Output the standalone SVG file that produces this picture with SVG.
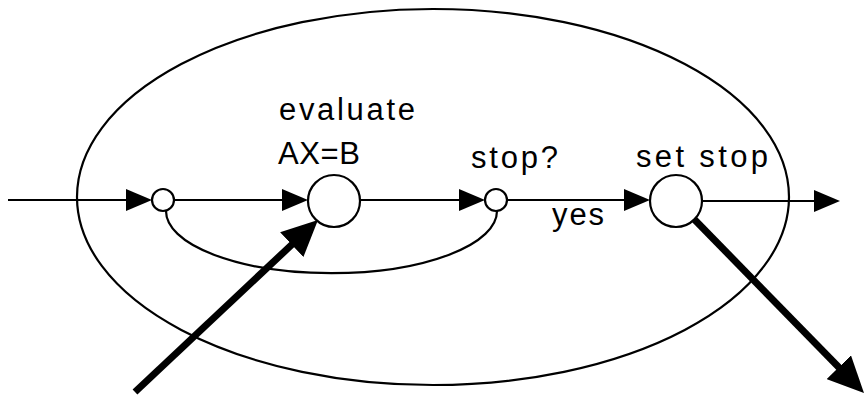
<svg xmlns="http://www.w3.org/2000/svg" width="864" height="399" viewBox="0 0 864 399">
<style>
.ln{fill:none;stroke:#000;stroke-width:2.2}
.thin{fill:none;stroke:#000;stroke-width:2.2;marker-end:url(#ah)}
.thick{fill:none;stroke:#000;stroke-width:7;marker-end:url(#ahb)}
.nd{fill:#fff;stroke:#000;stroke-width:2.2}
.tx{font-family:"Liberation Sans",Arial,sans-serif;font-size:31px;fill:#000}
</style>
<defs>
<marker id="ah" markerUnits="userSpaceOnUse" markerWidth="26" markerHeight="22" refX="16" refY="11" orient="auto">
<path d="M0,0 L26,11 L0,22 z" fill="#000"/>
</marker>
<marker id="ahb" markerUnits="userSpaceOnUse" markerWidth="36" markerHeight="34" refX="16" refY="17" orient="auto">
<path d="M0,0 L36,17 L0,34 z" fill="#000"/>
</marker>
</defs>
<g id="boundary">
<ellipse class="ln" cx="433" cy="197" rx="356" ry="188"/>
</g>
<g id="connectors">
<path class="thin" d="M8,200 L142,200"/>
<path class="thin" d="M174,200 L298,200"/>
<path class="thin" d="M360,200 L475,200"/>
<path class="thin" d="M507,200 L640,200"/>
<path class="thin" d="M702,201 L830,201"/>
<path class="ln" d="M166,211 A165,62 0 0 0 497,211"/>
<path class="thick" d="M135,392 L303.4,233.7"/>
<path class="thick" d="M692,217 L850,378.7"/>
<text class="tx" x="552" y="225" textLength="52">yes</text>
</g>
<g id="node-split">
<circle class="nd" cx="163" cy="200" r="11"/>
</g>
<g id="node-evaluate">
<circle class="nd" cx="334" cy="201" r="26"/>
<text class="tx" x="279" y="120" textLength="136">evaluate</text>
<text class="tx" x="278" y="164" textLength="82">AX=B</text>
</g>
<g id="node-stop">
<circle class="nd" cx="496" cy="200" r="11"/>
<text class="tx" x="471" y="168" textLength="87">stop?</text>
</g>
<g id="node-setstop">
<circle class="nd" cx="676" cy="201" r="26"/>
<text class="tx" x="636" y="167" textLength="132">set stop</text>
</g>
</svg>
